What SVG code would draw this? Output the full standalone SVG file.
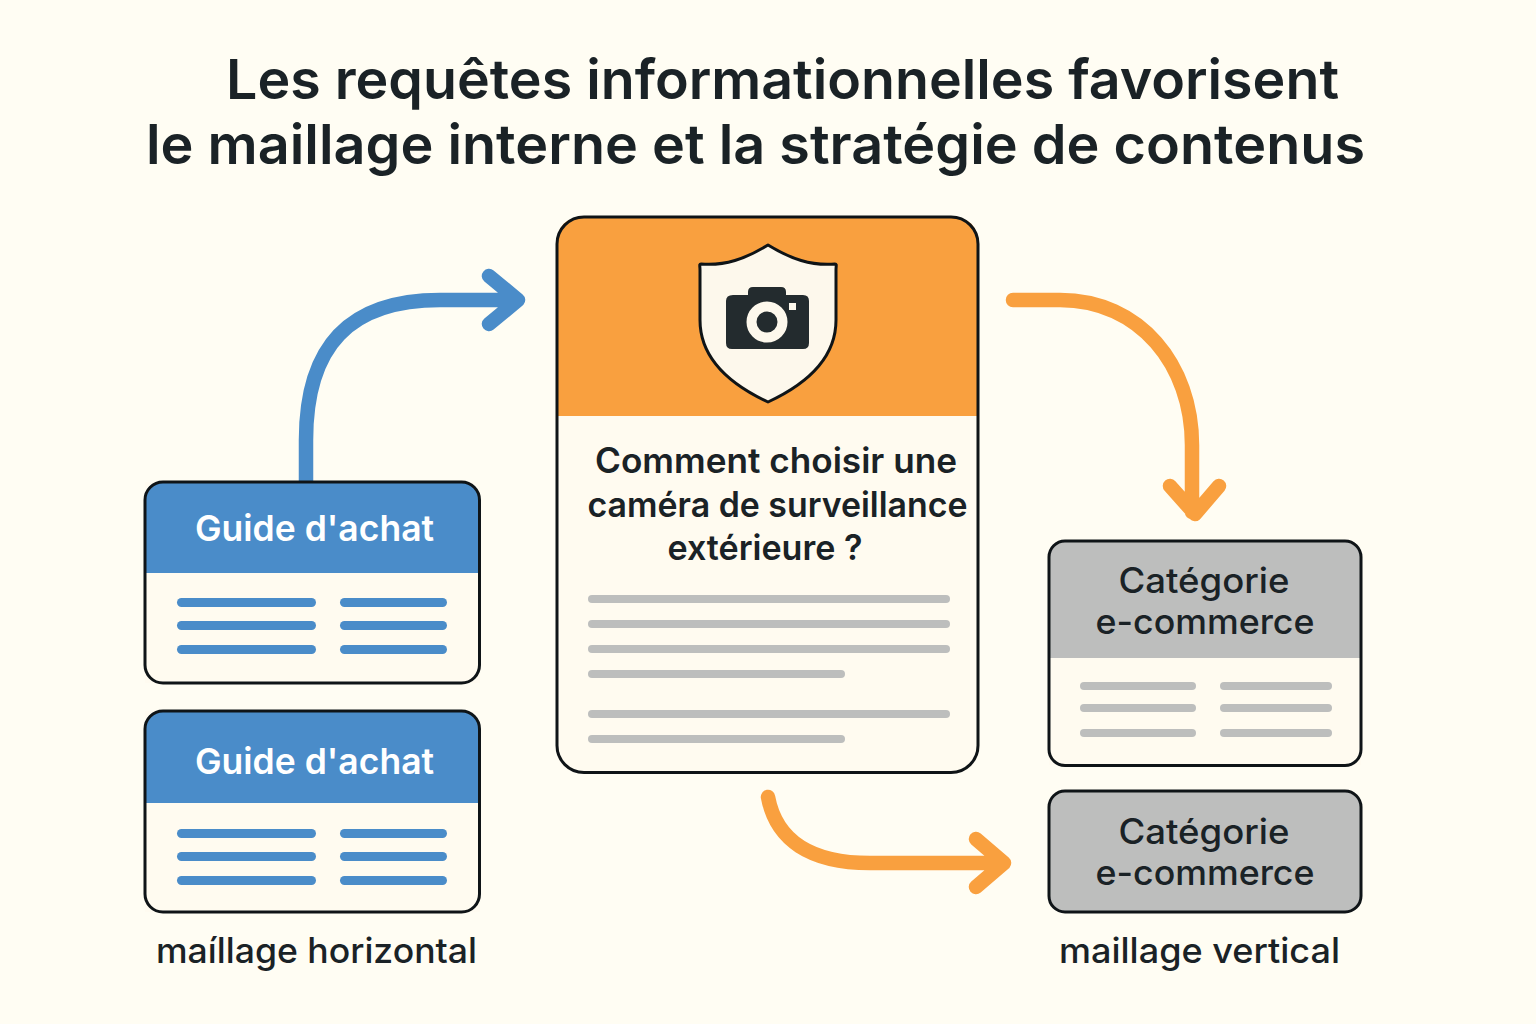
<svg xmlns="http://www.w3.org/2000/svg" width="1536" height="1024" viewBox="0 0 1536 1024">
<style>
text{font-family:Inter,"Noto Sans",sans-serif;fill:#1a2226;font-weight:600;text-anchor:middle}
.title{font-size:55.500px}
.cat{font-size:35px;font-weight:500}
.hdr{font-size:35.500px;fill:#fff}
.main{font-size:35px}
.cap{font-size:35px;font-weight:500}
.frame{fill:none;stroke:#0f1417;stroke-width:3}
.paper{fill:#fffbf0}
.blue{fill:#4a8cc9}.grey{fill:#bdbebd}.orange{fill:#f9a03f}
.conn{fill:none;stroke-width:14.500;stroke-linecap:round;stroke-linejoin:round}
</style>
<rect width="1536" height="1024" fill="#fffdf3"/>
<text class="title" x="782.500" y="99" textLength="1113" lengthAdjust="spacingAndGlyphs">Les requêtes informationnelles favorisent</text>
<text class="title" x="755.500" y="164" textLength="1219" lengthAdjust="spacingAndGlyphs">le maillage interne et la stratégie de contenus</text>
<g id="connectors" class="conn">
<path d="M306 482V440C306 345 350 300 440 300H516M489 276L518 300L489 324" stroke="#4a8cc9"/>
<path d="M1013 300H1060C1140 300 1192 365 1192 445V512M1170 486L1195 514L1219 486" stroke="#f9a03f"/>
<path d="M768 797C776 840 810 863 870 863H1002M976 839L1004 863L976 887" stroke="#f9a03f"/>
</g>
<g id="guide1">
<path class="paper" d="M145 482H480V683H145Z"/>
<path class="blue" d="M145 573V500Q145 482 163 482H461Q479 482 479 500V573Z"/>
<rect class="frame" x="145" y="482" width="334.500" height="201" rx="18"/>
<text class="hdr" x="314.500" y="541">Guide d'achat</text>
<g class="blue"><rect x="177" y="598" width="139" height="9" rx="4.500"/><rect x="340" y="598" width="107" height="9" rx="4.500"/><rect x="177" y="621" width="139" height="9" rx="4.500"/><rect x="340" y="621" width="107" height="9" rx="4.500"/><rect x="177" y="645" width="139" height="9" rx="4.500"/><rect x="340" y="645" width="107" height="9" rx="4.500"/></g>
</g>
<g id="guide2">
<path class="paper" d="M145 711H480V912H145Z"/>
<path class="blue" d="M145 803V729Q145 711 163 711H461Q479 711 479 729V803Z"/>
<rect class="frame" x="145" y="711" width="334.500" height="201" rx="18"/>
<text class="hdr" x="314.500" y="774">Guide d'achat</text>
<g class="blue"><rect x="177" y="829" width="139" height="9" rx="4.500"/><rect x="340" y="829" width="107" height="9" rx="4.500"/><rect x="177" y="852" width="139" height="9" rx="4.500"/><rect x="340" y="852" width="107" height="9" rx="4.500"/><rect x="177" y="876" width="139" height="9" rx="4.500"/><rect x="340" y="876" width="107" height="9" rx="4.500"/></g>
</g>
<g id="article">
<path class="paper" d="M557 400H978V750Q978 772 956 772H579Q557 772 557 750Z"/>
<path class="orange" d="M557 416V244Q557 217 584 217H951Q978 217 978 244V416Z"/>
<rect class="frame" x="557" y="217" width="421" height="555.500" rx="27"/>
<path d="M768 245C745 259 725 266 701 264C699 264 700 266 700 270V320C700 355 725 382 768 402C811 382 836 355 836 320V270C836 266 837 264 835 264C811 266 791 259 768 245Z" fill="#fdf8ec" stroke="#0f1417" stroke-width="3" stroke-linejoin="round"/>
<path d="M733 295H748V292Q748 287 753 287H781Q786 287 786 292V295H803Q809 295 809 301V343Q809 349 803 349H732Q726 349 726 343V301Q726 295 733 295Z" fill="#232b2e"/>
<circle cx="767" cy="322" r="15.500" fill="#232b2e" stroke="#fdf8ec" stroke-width="10"/>
<rect x="789" y="303" width="7" height="7" fill="#fdf8ec"/>
<text class="main" x="776" y="473" textLength="362" lengthAdjust="spacingAndGlyphs">Comment choisir une</text>
<text class="main" x="777.500" y="517" textLength="380" lengthAdjust="spacingAndGlyphs">caméra de surveillance</text>
<text class="main" x="765" y="560" textLength="195" lengthAdjust="spacingAndGlyphs">extérieure ?</text>
<g class="grey"><rect x="588" y="595" width="362" height="8" rx="4"/><rect x="588" y="620" width="362" height="8" rx="4"/><rect x="588" y="645" width="362" height="8" rx="4"/><rect x="588" y="670" width="257" height="8" rx="4"/><rect x="588" y="710" width="362" height="8" rx="4"/><rect x="588" y="735" width="257" height="8" rx="4"/></g>
</g>
<g id="category1">
<path class="paper" d="M1049 640H1361V765H1049Z"/>
<path class="grey" d="M1049 658V556Q1049 541 1064 541H1346Q1361 541 1361 556V658Z"/>
<rect class="frame" x="1049" y="541" width="312" height="224.500" rx="16"/>
<text class="cat" x="1204" y="593" textLength="171" lengthAdjust="spacingAndGlyphs">Catégorie</text>
<text class="cat" x="1205" y="634" textLength="219" lengthAdjust="spacingAndGlyphs">e-commerce</text>
<g class="grey"><rect x="1080" y="682" width="116" height="8" rx="4"/><rect x="1220" y="682" width="112" height="8" rx="4"/><rect x="1080" y="704" width="116" height="8" rx="4"/><rect x="1220" y="704" width="112" height="8" rx="4"/><rect x="1080" y="729" width="116" height="8" rx="4"/><rect x="1220" y="729" width="112" height="8" rx="4"/></g>
</g>
<g id="category2">
<rect class="grey" x="1049" y="791" width="312" height="121" rx="16"/>
<rect class="frame" x="1049" y="791" width="312" height="121" rx="16"/>
<text class="cat" x="1204" y="844" textLength="171" lengthAdjust="spacingAndGlyphs">Catégorie</text>
<text class="cat" x="1205" y="885" textLength="219" lengthAdjust="spacingAndGlyphs">e-commerce</text>
</g>
<text class="cap" x="316.500" y="963" textLength="321" lengthAdjust="spacingAndGlyphs">maíllage horizontal</text>
<text class="cap" x="1199.500" y="963" textLength="281" lengthAdjust="spacingAndGlyphs">maillage vertical</text>
</svg>
